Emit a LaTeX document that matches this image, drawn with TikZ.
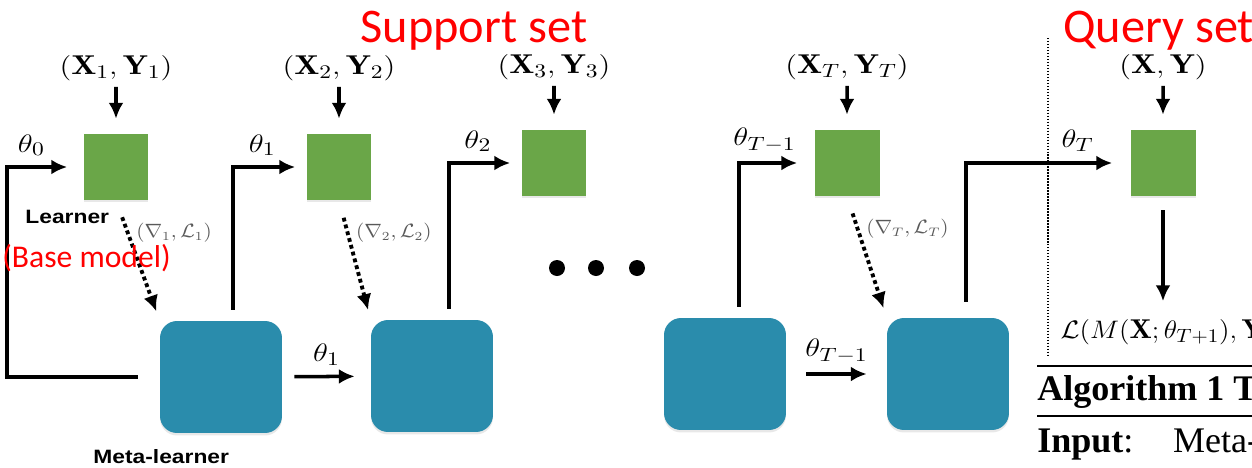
\documentclass[tikz,border=0pt]{standalone}
\usepackage{fontspec}
\usetikzlibrary{arrows.meta,shadows}

\newfontfamily\slidefont{Carlito}
\newfontfamily\figsans{Liberation Sans}
\newfontfamily\paperfont{Liberation Serif}

\definecolor{lrngreen}{RGB}{106,166,72}
\definecolor{metablue}{RGB}{42,140,172}

\tikzset{
    learner/.style={fill=lrngreen,minimum width=1.3cm,minimum height=1.32cm,inner sep=0pt,
        drop shadow={opacity=0.18,shadow xshift=0pt,shadow yshift=-0.05cm}},
    meta/.style={fill=metablue,rounded corners=0.34cm,minimum width=2.44cm,minimum height=2.24cm,inner sep=0pt,
        drop shadow={opacity=0.18,shadow xshift=0pt,shadow yshift=-0.05cm}},
    feed/.style={line width=2pt,-{Latex[length=9pt,width=8.5pt]}},
    grad/.style={line width=2.2pt,dash pattern=on 2.2pt off 1.8pt,-{Latex[length=9pt,width=8.5pt]}},
    sepline/.style={line width=0.8pt,dash pattern=on 0.8pt off 0.9pt},
    mathlbl/.style={font=\fontsize{15.5}{18}\selectfont,xscale=1.22},
    gradlbl/.style={font=\fontsize{10.5}{12}\selectfont,text=black!65,xscale=1.1},
    rolelbl/.style={font=\figsans\bfseries\fontsize{11}{13}\selectfont,xscale=1.18,inner sep=0pt},
    redlbl/.style={text=red,font=\slidefont\fontsize{27.5}{32}\selectfont,inner sep=0pt},
}

\begin{document}
\begin{tikzpicture}[x=0.02cm,y=-0.02cm]
    \useasboundingbox (0,0) rectangle (1252,467);
    \clip (0,0) rectangle (1252,467);

    %% Learners
    \node[learner] (lrn1) at (116,167) {};
    \node[learner] (lrn2) at (339,167) {};
    \node[learner] (lrn3) at (554,163) {};
    \node[learner] (lrnT) at (847,163) {};
    \node[learner] (lrnQ) at (1163,163) {};

    %% Meta-learners
    \node[meta] (meta1) at (221,377) {};
    \node[meta] (meta2) at (432,376) {};
    \node[meta] (metaTm) at (725,374) {};
    \node[meta] (metaT) at (948,374) {};

    %% Data
    \node[mathlbl] (in1) at (116,68) {$(\mathbf{X}_1,\mathbf{Y}_1)$};
    \node[mathlbl] (in2) at (339,68) {$(\mathbf{X}_2,\mathbf{Y}_2)$};
    \node[mathlbl] (in3) at (554,67) {$(\mathbf{X}_3,\mathbf{Y}_3)$};
    \node[mathlbl] (inT) at (847,67) {$(\mathbf{X}_T,\mathbf{Y}_T)$};
    \node[mathlbl] (inQ) at (1163,67) {$(\mathbf{X},\mathbf{Y})$};
    \foreach \n in {1,2,3,T,Q}
        \draw[feed,shorten >=0.3cm] (in\n) -- (lrn\n);

    %% Parameters
    \coordinate (loopcorner) at (7,377);
    \draw[feed,shorten <=0.44cm,shorten >=0.32cm] (meta1.west) -- (loopcorner) |- (lrn1)
        node[mathlbl,pos=0.66,above=2pt] {$\theta_0$};
    \draw[feed,shorten >=0.22cm] ([xshift=0.24cm,yshift=0.22cm]meta1.north) |- (lrn2)
        node[mathlbl,pos=0.7,above=2pt] {$\theta_1$};
    \draw[feed,shorten >=0.22cm] ([xshift=0.34cm,yshift=0.22cm]meta2.north) |- (lrn3)
        node[mathlbl,pos=0.7,above=2pt] {$\theta_2$};
    \draw[feed,shorten >=0.34cm] ([xshift=0.28cm,yshift=0.22cm]metaTm.north) |- (lrnT)
        node[mathlbl,pos=0.67,above=2pt] {$\theta_{T-1}$};
    \draw[feed,shorten >=0.36cm] ([xshift=0.36cm,yshift=0.32cm]metaT.north) |- (lrnQ)
        node[mathlbl,pos=0.84,above=2pt] {$\theta_T$};
    \draw[feed,shorten <=0.24cm,shorten >=0.32cm] (meta1) -- (meta2)
        node[mathlbl,midway,above=2pt] {$\theta_1$};
    \draw[feed,shorten <=0.4cm,shorten >=0.4cm] (metaTm) -- (metaT)
        node[mathlbl,midway,above=2pt] {$\theta_{T-1}$};

    %% Gradients
    \draw[grad,shorten <=0.36cm,shorten >=0.2cm] (lrn1.south) -- (meta1.north west)
        node[gradlbl,pos=0.27,anchor=west] {$(\nabla_1,\mathcal{L}_1)$};
    \draw[grad,shorten <=0.36cm,shorten >=0.2cm] (lrn2.south) -- (meta2.north west)
        node[gradlbl,pos=0.27,anchor=west] {$(\nabla_2,\mathcal{L}_2)$};
    \draw[grad,shorten <=0.36cm,shorten >=0.2cm] (lrnT.south) -- (metaT.north west)
        node[gradlbl,pos=0.27,anchor=west] {$(\nabla_T,\mathcal{L}_T)$};

    %% Dots
    \foreach \x in {557,596,637}
        \fill (\x,268) circle (0.16cm);

    %% Query side
    \draw[sepline] (1048,38) -- (1048,357);
    \node[mathlbl,xscale=0.89,anchor=west] (loss) at (1054,332) {$\mathcal{L}(M(\mathbf{X};\theta_{T+1}),\mathbf{Y})$};
    \draw[feed,shorten <=0.28cm,shorten >=0.24cm] (lrnQ) -- (lrnQ |- loss.north);

    %% Names
    \node[rolelbl,anchor=base west] (lrnname) at (25,223) {Learner};
    \node[rolelbl,anchor=base west] (metaname) at (93,463) {Meta-learner};
    \node[redlbl,anchor=base] (support) at (474,42) {Support set};
    \node[redlbl,anchor=base west] (query) at (1063,42) {Query set};
    \node[redlbl,anchor=base west,font=\slidefont\fontsize{18}{20}\selectfont] (basemodel) at (2,267) {(Base model)};

    %% Algorithm box
    \draw[line width=1.7pt] (1037,366) -- (1252,366);
    \draw[line width=1pt] (1037,416) -- (1252,416);
    \node[anchor=base west,inner sep=0pt,font=\paperfont\bfseries\fontsize{20.5}{24}\selectfont] (algtitle) at (1037,400) {Algorithm 1 T};
    \node[anchor=base west,inner sep=0pt,font=\paperfont\fontsize{20.5}{24}\selectfont] (alginput) at (1037,452) {\textbf{Input}:\hspace{1.1em}Meta-};
\end{tikzpicture}
\end{document}
